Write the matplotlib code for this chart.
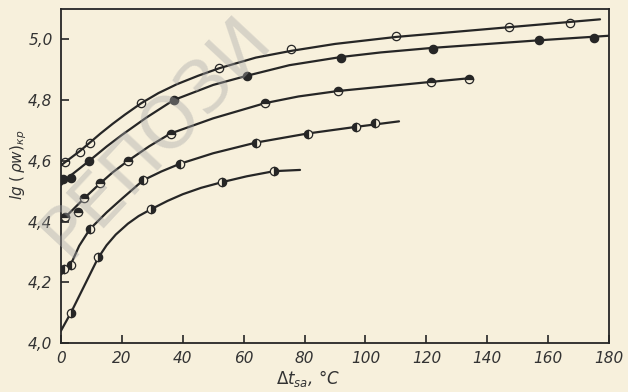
import matplotlib
matplotlib.use('Agg')
import matplotlib.pyplot as plt

# точки (маркеры) и линии пяти кривых
c1_x = [1.3, 6.2, 9.5, 26.4, 52, 75.5, 110, 147, 167]
c1_y = [4.595, 4.63, 4.66, 4.79, 4.905, 4.967, 5.01, 5.04, 5.055]
c1_lx = [0, 1.3, 6.2, 9.5, 13, 17, 21, 26.4, 32, 38, 45, 52, 64, 75.5, 90, 110, 147, 177]
c1_ly = [4.585, 4.595, 4.632, 4.66, 4.69, 4.722, 4.752, 4.79, 4.823, 4.852, 4.88, 4.905, 4.94, 4.962, 4.985, 5.008, 5.04, 5.066]

c2_x = [0.7, 3.3, 9.3, 37, 61, 92, 122, 157, 175]
c2_y = [4.54, 4.545, 4.60, 4.80, 4.88, 4.94, 4.967, 4.997, 5.003]
c2_lx = [0, 3, 9.3, 15, 20, 28, 37, 50, 61, 75, 92, 105, 122, 157, 180]
c2_ly = [4.52, 4.55, 4.60, 4.647, 4.685, 4.742, 4.80, 4.85, 4.88, 4.915, 4.942, 4.957, 4.972, 4.997, 5.012]

c3_x = [1.5, 5.6, 7.6, 12.8, 22, 36, 67, 91, 121.5, 134]
c3_y = [4.414, 4.43, 4.477, 4.526, 4.60, 4.69, 4.79, 4.83, 4.86, 4.87]
c3_lx = [0, 4, 8, 12.8, 17, 22, 29, 36, 50, 67, 78, 91, 121.5, 134]
c3_ly = [4.40, 4.44, 4.48, 4.525, 4.562, 4.60, 4.648, 4.69, 4.74, 4.79, 4.812, 4.83, 4.86, 4.872]

c4_x = [1, 3.3, 9.5, 27, 39, 64, 81, 97, 103]
c4_y = [4.243, 4.257, 4.375, 4.536, 4.59, 4.66, 4.69, 4.71, 4.725]
c4_lx = [0, 3.3, 6, 9.5, 15, 20, 27, 33, 39, 50, 64, 81, 97, 111]
c4_ly = [4.225, 4.26, 4.32, 4.375, 4.43, 4.475, 4.536, 4.565, 4.59, 4.625, 4.66, 4.69, 4.712, 4.73]

c5_x = [3.3, 12.2, 29.5, 53, 70]
c5_y = [4.10, 4.283, 4.44, 4.53, 4.566]
c5_lx = [0, 3.3, 8, 12.2, 15, 18, 22, 25.5, 29.5, 35, 40, 46, 53, 61, 70, 78.5]
c5_ly = [4.04, 4.10, 4.195, 4.28, 4.322, 4.357, 4.393, 4.418, 4.44, 4.468, 4.49, 4.511, 4.53, 4.549, 4.566, 4.57]

x_ticks = [0, 20, 40, 60, 80, 100, 120, 140, 160, 180]
y_ticks = [4.0, 4.2, 4.4, 4.6, 4.8, 5.0]

paper = '#f7f0dc'
ink = '#262626'

plt.rcParams['font.family'] = ['DejaVu Sans']
plt.rcParams['mathtext.fontset'] = 'dejavusans'

fig = plt.figure(figsize=(6.28, 3.92), dpi=100)
fig.patch.set_facecolor(paper)
ax = fig.add_axes([0.097, 0.125, 0.873, 0.852])
ax.set_facecolor(paper)

curves = [
    (c1_lx, c1_ly, c1_x, c1_y, 'none'),
    (c2_lx, c2_ly, c2_x, c2_y, 'full'),
    (c3_lx, c3_ly, c3_x, c3_y, 'top'),
    (c4_lx, c4_ly, c4_x, c4_y, 'left'),
    (c5_lx, c5_ly, c5_x, c5_y, 'right'),
]
for lx, ly, px, py, fs in curves:
    ax.plot(lx, ly, color=ink, linewidth=1.6, solid_capstyle='round',
            solid_joinstyle='round', zorder=2)
    ax.plot(px, py, linestyle='none', marker='o', markersize=6,
            fillstyle=fs, markerfacecolor=ink, markerfacecoloralt=paper,
            markeredgecolor=ink, markeredgewidth=0.9, zorder=3)

ax.set_xlim(0, 180)
ax.set_ylim(4.0, 5.1)
ax.set_xticks(x_ticks)
ax.set_yticks(y_ticks)
ax.set_xticklabels([str(t) for t in x_ticks])
ax.set_yticklabels([('%.1f' % t).replace('.', ',') for t in y_ticks])
ax.tick_params(direction='in', length=6, width=1.2, colors=ink,
               labelsize=11, pad=6)
for lab in ax.get_xticklabels() + ax.get_yticklabels():
    lab.set_fontstyle('italic')
    lab.set_color('#333333')
for sp in ax.spines.values():
    sp.set_color(ink)
    sp.set_linewidth(1.3)

fig.text(0.03, 0.58, r'$lg\ (\,\rho w)_{кр}$', rotation=90,
         ha='center', va='center', fontsize=11, color='#333333')
fig.text(0.49, 0.035, r'$\Delta t_{sa}$, °C', ha='center', va='center',
         fontsize=12, color='#333333', style='italic')

# водяной знак
fig.text(0.045, 0.35, 'РЕПОЗИ', rotation=47, fontsize=52,
         color='#a8a8a8', alpha=0.4, ha='left', va='baseline', zorder=10)

fig.savefig('out.png', dpi=100, facecolor=paper)
